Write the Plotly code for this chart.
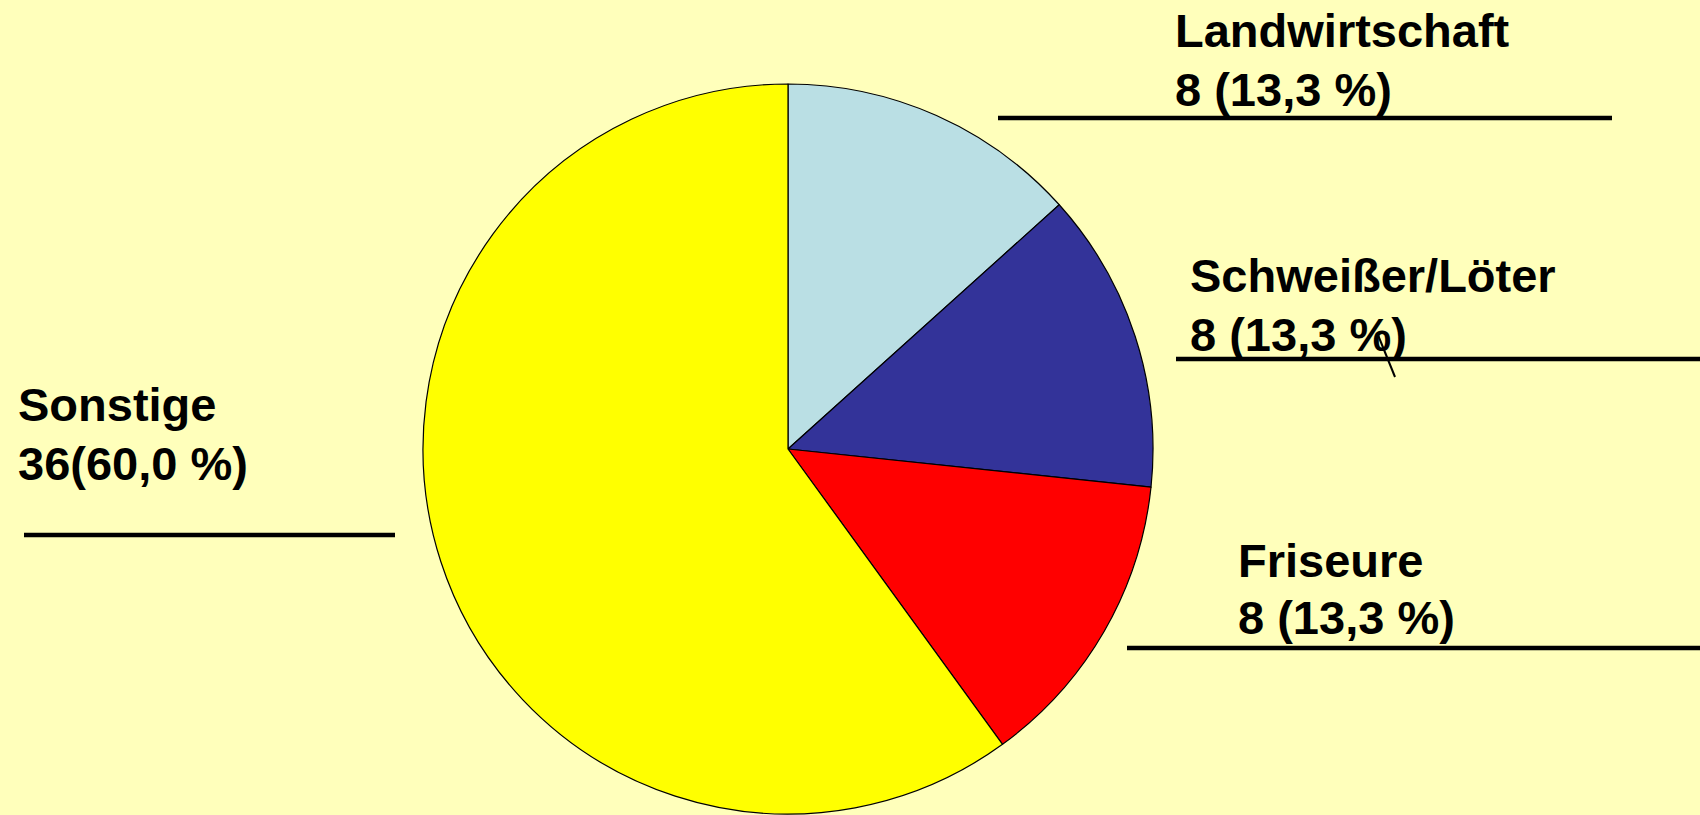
import plotly.graph_objects as go

# ---- data ----
categories = ['Landwirtschaft', 'Schweißer/Löter', 'Friseure', 'Sonstige']
counts = [8, 8, 8, 36]
count_texts = ['8 (13,3 %)', '8 (13,3 %)', '8 (13,3 %)', '36(60,0 %)']
slice_colors = ['#BADFE4', '#333399', '#FF0000', '#FFFF00']

W, H = 1700, 815
BG = '#FFFFBB'


def px(x):
    return x / W


def py(y):
    return 1 - y / H


# ---- pie ----
cx, cy, r = 788, 449, 365
fig = go.Figure(go.Pie(
    labels=categories, values=counts, sort=False, direction='clockwise',
    rotation=0, textinfo='none', hoverinfo='label+value+percent',
    marker=dict(colors=slice_colors, line=dict(color='black', width=1.2)),
    domain=dict(x=[px(cx - r), px(cx + r)], y=[py(cy + r), py(cy - r)]),
    showlegend=False,
))

# ---- labels: (x left, cap-middle y of line 1, of line 2) ----
font_family = 'Liberation Sans, Arial, sans-serif'
label_pos = [
    (1173, 30, 89),
    (1188, 275, 334),
    (1236, 560, 617),
    (16, 404, 463),
]
for name, detail, (x, y1, y2) in zip(categories, count_texts, label_pos):
    for txt, y in ((name, y1), (detail, y2)):
        fig.add_annotation(text='<b>' + txt + '</b>', xref='paper', yref='paper',
                           x=px(x), y=py(y), xanchor='left', yanchor='middle',
                           showarrow=False,
                           font=dict(family=font_family, size=47, color='black'))

# ---- underlines ----
underlines = [(998, 1612, 118), (1176, 1700, 359), (1127, 1700, 648), (24, 395, 535)]
for x0, x1, y in underlines:
    fig.add_shape(type='line', xref='paper', yref='paper', x0=px(x0), x1=px(x1),
                  y0=py(y), y1=py(y), line=dict(color='black', width=4.5))

# small leader stub near the Schweißer label
fig.add_shape(type='line', xref='paper', yref='paper', x0=px(1378), y0=py(335),
              x1=px(1395), y1=py(377), line=dict(color='black', width=2))

fig.update_layout(width=W, height=H, margin=dict(l=0, r=0, t=0, b=0),
                  paper_bgcolor=BG, plot_bgcolor=BG)

fig.write_html('out.html', config={'displayModeBar': False},
               post_script="document.body.style.margin='0';")
